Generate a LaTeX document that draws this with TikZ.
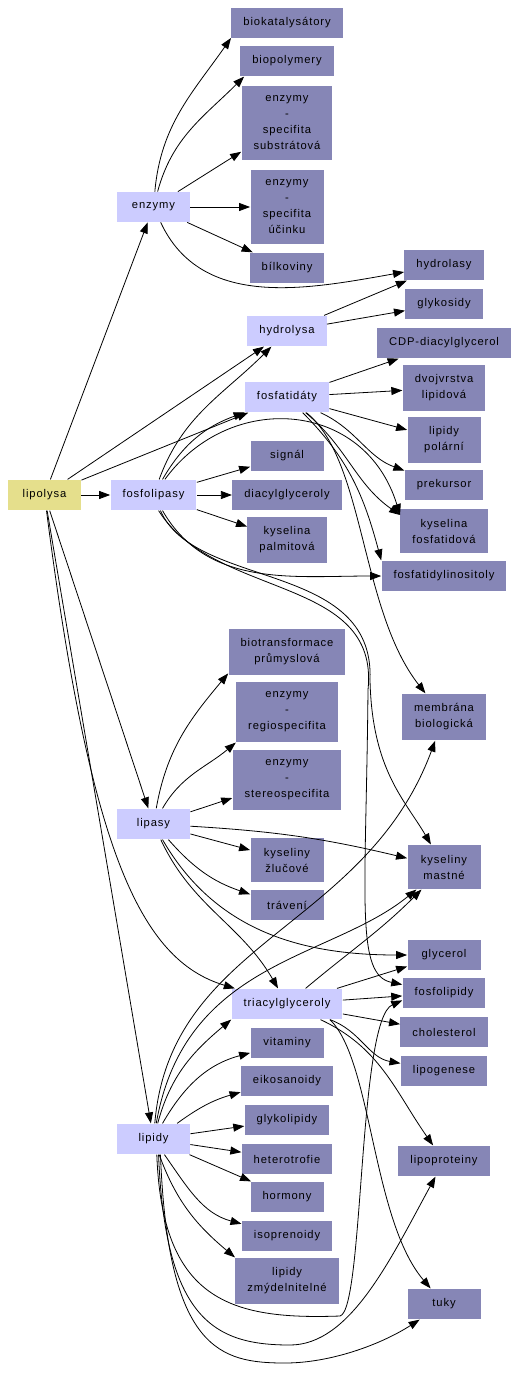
\documentclass[tikz,border=0pt]{standalone}
\usepackage{fontspec}
\newfontfamily\gvfont[LetterSpace=8]{Liberation Sans}
\usetikzlibrary{positioning}
\usetikzlibrary{arrows.meta}
\definecolor{rootyellow}{HTML}{E5DF8C}
\definecolor{hublilac}{HTML}{CCCCFF}
\definecolor{leafblue}{HTML}{8686B6}
\tikzset{
  box/.style={rectangle, minimum width=73pt, minimum height=30pt, inner xsep=12pt, inner ysep=10pt,
    align=center, font=\gvfont\fontsize{11.2}{16}\selectfont},
  root/.style={box, fill=rootyellow},
  hub/.style={box, fill=hublilac},
  leaf/.style={box, fill=leafblue},
}

\begin{document}
\begin{tikzpicture}[x=1pt, y=1pt, node distance=40pt, line width=0.8pt, >={Triangle[length=11pt,width=8pt]}]
  \useasboundingbox (0,0) rectangle (519,-1391);
  % hubs
  \node[root] (lipolysa) at (44.5,-495)                            {lipolysa};
  \node[hub]  (fosfolipasy) [right of=lipolysa, node distance=109pt] {fosfolipasy};
  \node[hub]  (enzymy) [above of=fosfolipasy, node distance=288pt]   {enzymy};
  \node[hub]  (lipasy) [below of=fosfolipasy, node distance=329pt]   {lipasy};
  \node[hub]  (lipidy) [below of=lipasy, node distance=315pt]        {lipidy};
  % first column
  \node[leaf] (diacyl)     [right of=fosfolipasy, node distance=133.5pt] {diacylglyceroly};
  \node[leaf] (signal)     [above of=diacyl, node distance=39pt]      {signál};
  \node[hub]  (fosfatidaty) [above of=signal, node distance=59pt]     {fosfatidáty};
  \node[hub]  (hydrolysa)  [above of=fosfatidaty, node distance=66pt] {hydrolysa};
  \node[leaf] (bilkoviny)  [above of=hydrolysa, node distance=63pt]   {bílkoviny};
  \node[leaf] (ucinek)     [above of=bilkoviny, node distance=61pt]   {enzymy\\-\\specifita\\účinku};
  \node[leaf] (substr)     [above of=ucinek, node distance=84pt]      {enzymy\\-\\specifita\\substrátová};
  \node[leaf] (biopoly)    [above of=substr, node distance=62pt]      {biopolymery};
  \node[leaf] (biokat)     [above of=biopoly, node distance=38pt]     {biokatalysátory};
  \node[leaf] (palmitova)  [below of=diacyl, node distance=45pt]      {kyselina\\palmitová};
  \node[leaf] (biotrans)   [below of=palmitova, node distance=112pt]  {biotransformace\\průmyslová};
  \node[leaf] (regio)      [below of=biotrans, node distance=60pt]    {enzymy\\-\\regiospecifita};
  \node[leaf] (stereo)     [below of=regio, node distance=68pt]       {enzymy\\-\\stereospecifita};
  \node[leaf] (zlucove)    [below of=stereo, node distance=80pt]      {kyseliny\\žlučové};
  \node[leaf] (traveni)    [below of=zlucove, node distance=45pt]     {trávení};
  \node[hub]  (triacyl)    [below of=traveni, node distance=99pt]     {triacylglyceroly};
  \node[leaf] (vitaminy)   [below of=triacyl, node distance=39pt]     {vitaminy};
  \node[leaf] (eikosanoidy) [below of=vitaminy, node distance=38pt]   {eikosanoidy};
  \node[leaf] (glykolipidy) [below of=eikosanoidy, node distance=39pt] {glykolipidy};
  \node[leaf] (heterotrofie) [below of=glykolipidy, node distance=39pt] {heterotrofie};
  \node[leaf] (hormony)    [below of=heterotrofie, node distance=38pt] {hormony};
  \node[leaf] (isoprenoidy) [below of=hormony, node distance=39pt]    {isoprenoidy};
  \node[leaf] (zmydel)     [below of=isoprenoidy, node distance=45pt] {lipidy\\zmýdelnitelné};
  % second column
  \node[leaf] (prekursor)  [right of=diacyl, node distance=157pt, yshift=10pt] {prekursor};
  \node[leaf] (polarni)    [above of=prekursor, node distance=45pt]   {lipidy\\polární};
  \node[leaf] (dvojvrstva) [above of=polarni, node distance=52pt]     {dvojvrstva\\lipidová};
  \node[leaf] (cdp)        [above of=dvojvrstva, node distance=45pt]  {CDP-diacylglycerol};
  \node[leaf] (glykosidy)  [above of=cdp, node distance=39pt]         {glykosidy};
  \node[leaf] (hydrolasy)  [above of=glykosidy, node distance=39pt]   {hydrolasy};
  \node[leaf] (kysfosf)    [below of=prekursor, node distance=46pt]   {kyselina\\fosfatidová};
  \node[leaf] (inositoly)  [below of=kysfosf, node distance=45pt]     {fosfatidylinositoly};
  \node[leaf] (membrana)   [below of=inositoly, node distance=141pt]  {membrána\\biologická};
  \node[leaf] (mastne)     [below of=membrana, node distance=150pt]   {kyseliny\\mastné};
  \node[leaf] (glycerol)   [below of=mastne, node distance=88pt]      {glycerol};
  \node[leaf] (fosfolipidy) [below of=glycerol, node distance=38pt]   {fosfolipidy};
  \node[leaf] (cholesterol) [below of=fosfolipidy, node distance=39pt] {cholesterol};
  \node[leaf] (lipogenese) [below of=cholesterol, node distance=39pt] {lipogenese};
  \node[leaf] (lipoproteiny) [below of=lipogenese, node distance=90pt] {lipoproteiny};
  \node[leaf] (tuky)       [below of=lipoproteiny, node distance=143pt] {tuky};

  \path[->] (lipolysa) edge (enzymy)
                       edge (hydrolysa)
                       edge (fosfatidaty)
                       edge (fosfolipasy)
                       edge (lipasy)
                       edge (lipidy)
            (enzymy) edge [out=85, in=-125] (biokat.-165)
                     edge [out=75, in=-135] (biopoly.-160)
                     edge (substr)
                     edge (ucinek)
                     edge (bilkoviny)
                     edge [out=-65, in=190] (hydrolasy)
            (hydrolysa) edge (hydrolasy)
                        edge (glykosidy)
            (fosfolipasy) edge [out=70, in=-135] (hydrolysa)
                          edge [out=60, in=-160] (fosfatidaty)
                          edge (signal)
                          edge (diacyl)
                          edge (palmitova)
                          edge [out=-60, in=180] (inositoly)
            (fosfatidaty) edge (cdp)
                          edge (dvojvrstva)
                          edge (polarni)
                          edge [out=-25, in=160] (prekursor)
                          edge [out=-40, in=145] (kysfosf.160)
                          edge [out=-45, in=105] (inositoly.north west)
            (lipasy) edge [out=80, in=-130] (biotrans.-160)
                     edge [out=60, in=-140] (regio.south west)
                     edge (stereo)
                     edge (zlucove)
                     edge [bend left=5] (mastne)
                     edge [bend right=15] (traveni)
                     edge [out=-60, in=180] (glycerol)
                     edge [out=-65, in=120] (triacyl)
            (triacyl) edge (glycerol)
                      edge (fosfolipidy)
                      edge (cholesterol)
                      edge [out=-20, in=170] (lipogenese)
                      edge [out=-25, in=125] (lipoproteiny)
                      edge [out=40, in=-135] (mastne)
            (lipidy) edge [out=75, in=-140] (triacyl.south west)
                     edge [out=60, in=-165] (vitaminy)
                     edge [bend left=10] (eikosanoidy)
                     edge (glykolipidy)
                     edge (heterotrofie)
                     edge (hormony)
                     edge [out=-55, in=165] (isoprenoidy)
                     edge [out=-70, in=140] (zmydel.north west);

  % long detours round the first column
  \draw[->] (lipolysa) .. controls (90,-850) and (140,-960) .. (triacyl);
  \draw[->] (fosfolipasy) .. controls (230,-390) and (365,-400) .. (kysfosf.160);
  \draw[->] (fosfolipasy.-66) .. controls (195,-590) and (375,-560) .. (370,-680)
            .. controls (372,-770) and (405,-800) .. (mastne);
  \draw[->] (fosfolipasy.-72) .. controls (215,-600) and (380,-575) .. (368,-690)
            .. controls (366,-900) and (355,-975) .. (fosfolipidy);
  \draw[->] (fosfatidaty) .. controls (365,-460) and (360,-610) .. (membrana);
  \draw[->] (lipidy) .. controls (170,-940) and (365,-930) .. (membrana);
  \draw[->] (lipidy) .. controls (185,-960) and (330,-960) .. (mastne);
  \draw[->] (triacyl.-20) .. controls (372,-1060) and (372,-1220) .. (tuky);
  \draw[->] (lipidy.-78) .. controls (162,-1300) and (230,-1320) .. (340,-1316)
            .. controls (364,-1310) and (358,-1020) .. (fosfolipidy.190);
  \draw[->] (lipidy.-72) .. controls (165,-1320) and (215,-1345) .. (290,-1345)
            .. controls (350,-1345) and (390,-1260) .. (lipoproteiny);
  \draw[->] (lipidy.-66) .. controls (168,-1350) and (220,-1363) .. (285,-1363)
            .. controls (330,-1363) and (380,-1345) .. (tuky);
\end{tikzpicture}
\end{document}
